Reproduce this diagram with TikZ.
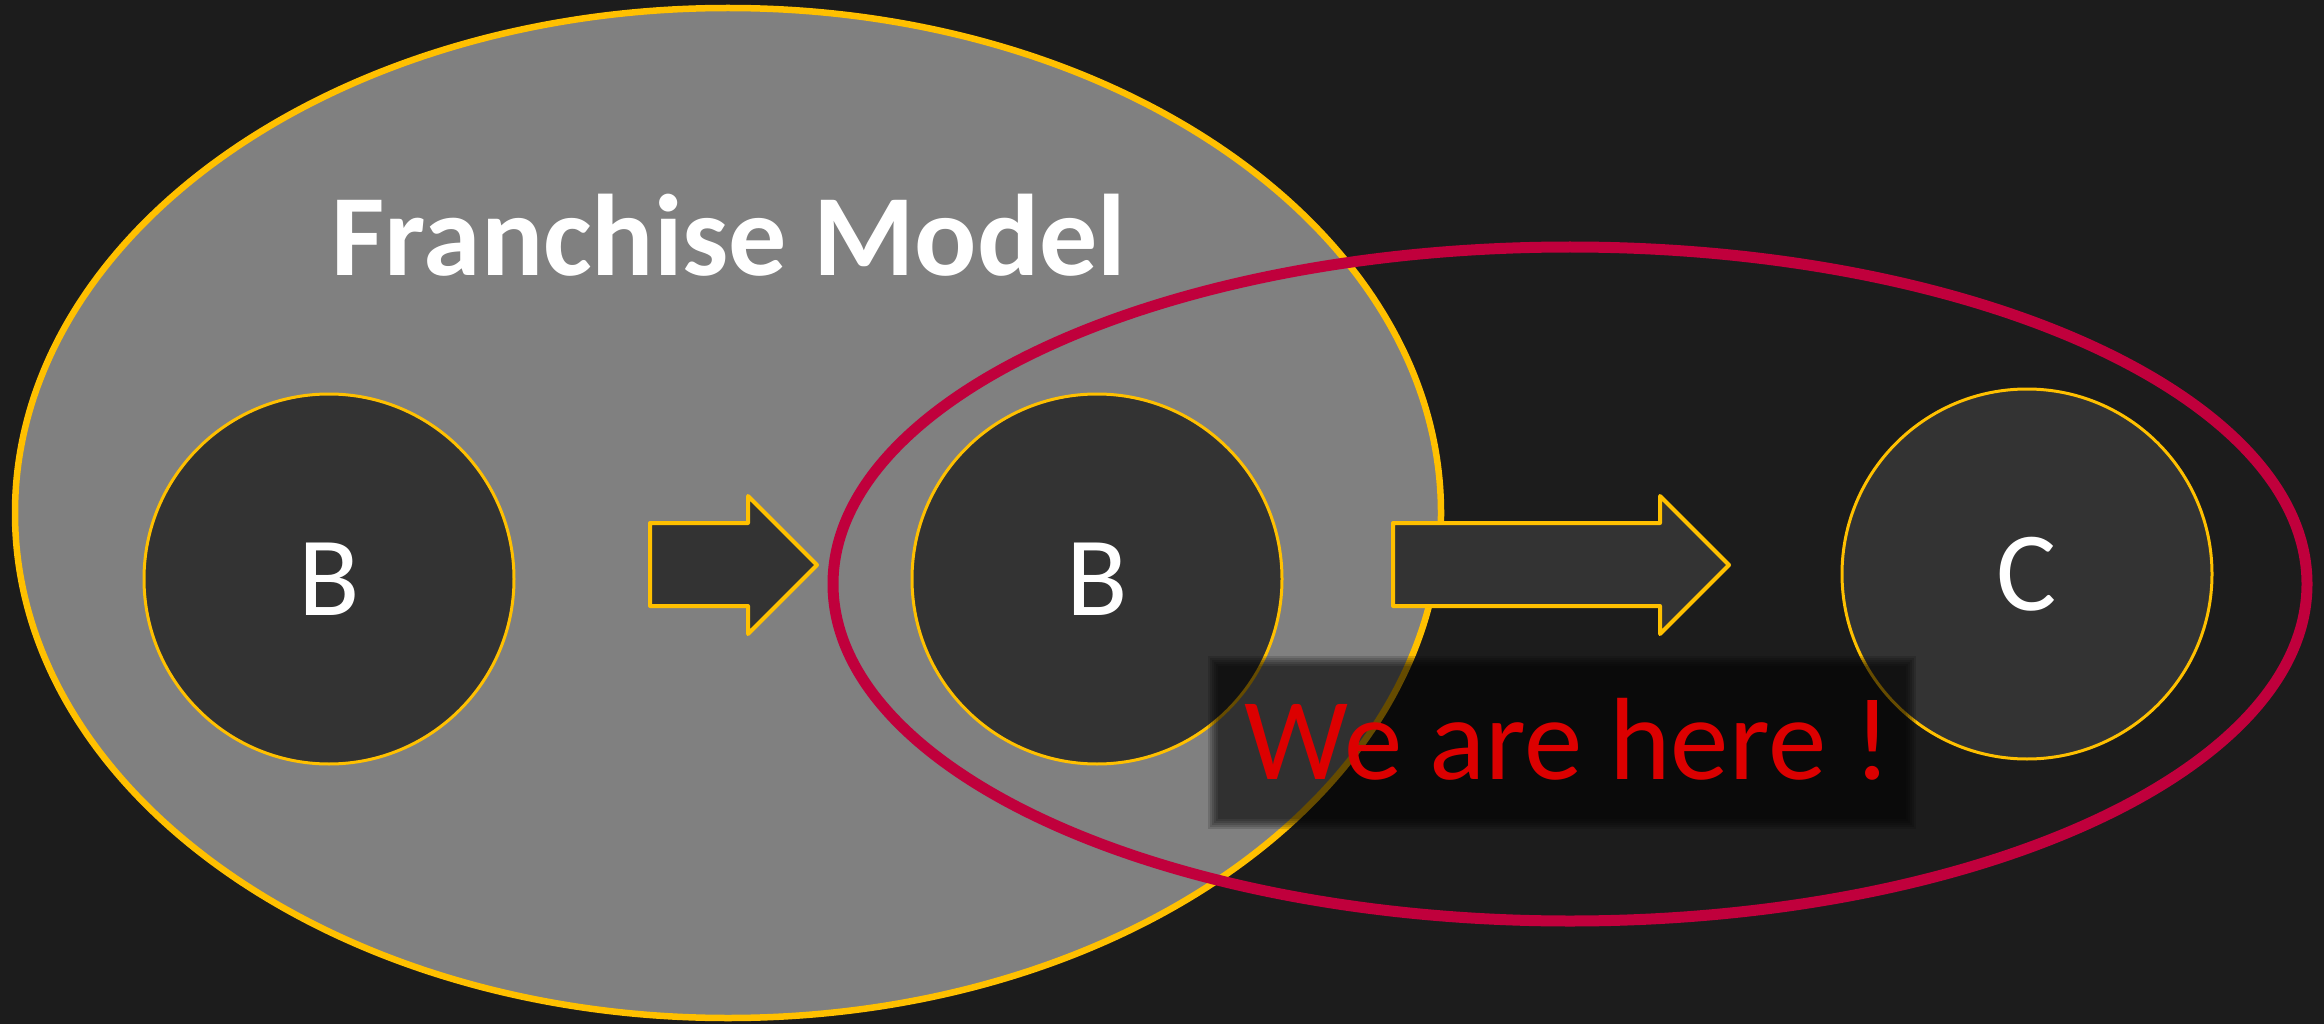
\documentclass[tikz,border=0pt]{standalone}
\usepackage{fontspec}
\setmainfont{Carlito}
\definecolor{bg}{HTML}{1C1C1C}
\definecolor{grayfill}{HTML}{808080}
\definecolor{gold}{HTML}{FFC000}
\definecolor{dark}{HTML}{333333}
\definecolor{crimson}{HTML}{C0003C}
\definecolor{herered}{HTML}{DC0000}
\begin{document}
\begin{tikzpicture}[x=1pt,y=-1pt,
  circ/.style={circle,draw=gold,line width=3pt,fill=dark,minimum size=370pt,inner sep=0pt,
    text=white,font=\fontsize{113}{113}\selectfont},
  arrowshape/.style={draw=gold,fill=dark,line width=4pt,line join=round},
  title/.style={text=white,font=\bfseries\fontsize{116}{116}\selectfont,inner sep=0pt},
  note/.style={text=herered,font=\fontsize{117}{117}\selectfont,inner sep=0pt}]
\fill[bg] (0,0) rectangle (2324,1024);
\useasboundingbox (0,0) rectangle (2324,1024);
% franchise ellipse
\draw[gold,fill=grayfill,line width=6.5pt] (728,513) ellipse [x radius=713,y radius=505];
\node[title,anchor=base] (title) at (729,276) {Franchise Model};
% circles
\node[circ] (b1) at (329,579) {B};
\node[circ] (b2) at (1097,579) {B};
\node[circ] (c) at (2027,574) {C};
% arrows
\draw[arrowshape] (650,523) -- (748,523) -- (748,496) -- (817,565) -- (748,634) -- (748,606) -- (650,606) -- cycle;
\draw[arrowshape] (1393,523) -- (1660,523) -- (1660,496) -- (1729,565) -- (1660,634) -- (1660,606) -- (1393,606) -- cycle;
% red ellipse
\draw[crimson,line width=11pt] (1570,584) ellipse [x radius=737,y radius=337];
% soft dark box
\foreach \d in {6,4,2,0,-2,-4}{
  \fill[black,opacity=0.142] (1214-\d,662-\d) rectangle (1910+\d,823+\d);
}
\node[note,anchor=base] (here) at (1568,779) {We are here !};
\end{tikzpicture}
\end{document}
